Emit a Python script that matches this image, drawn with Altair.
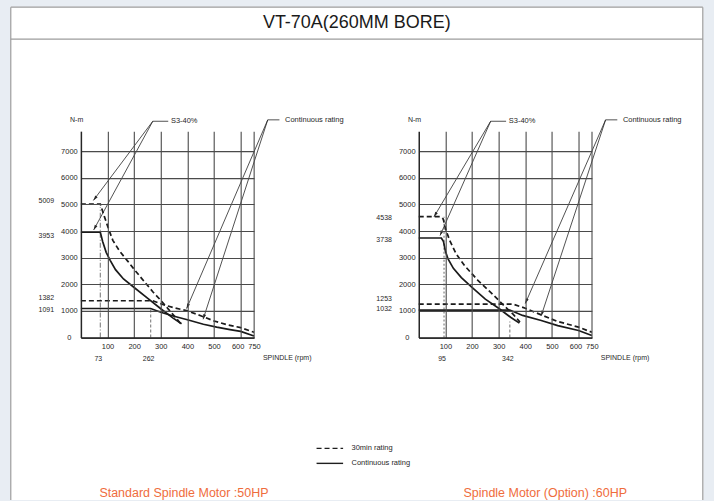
import math
import altair as alt
import pandas as pd

# ---------------- data ----------------
TITLE = "VT-70A(260MM BORE)"
X_TICKS = [100, 200, 300, 400, 500, 600, 750]
Y_TICKS = [0, 1000, 2000, 3000, 4000, 5000, 6000, 7000]

# Left chart: Standard Spindle Motor :50HP
L_S30_LOW_RPM = [0, 73, 88, 105, 120, 145, 175, 205, 240, 270, 300, 330, 355, 375]
L_S30_LOW_NM = [5009, 5009, 4550, 4050, 3650, 3250, 2880, 2500, 2080, 1720, 1400, 1050, 760, 520]
L_CONT_LOW_RPM = [0, 73, 82, 95, 110, 130, 160, 200, 250, 300, 345, 378]
L_CONT_LOW_NM = [3953, 3953, 3600, 3200, 2900, 2550, 2200, 1880, 1480, 1080, 740, 520]
L_S30_HIGH_RPM = [0, 270, 310, 350, 400, 450, 500, 550, 600, 750]
L_S30_HIGH_NM = [1382, 1382, 1230, 1120, 1000, 820, 620, 480, 370, 200]
L_CONT_HIGH_RPM = [0, 262, 300, 350, 400, 460, 510, 560, 600, 750]
L_CONT_HIGH_NM = [1091, 1091, 950, 800, 670, 500, 390, 300, 230, 60]
L_Y_MARKS = [5009, 3953, 1382, 1091]
L_X_MARKS = [73, 262]
L_CAPTION = "Standard Spindle Motor :50HP"

# Right chart: Spindle Motor (Option) :60HP
R_S30_LOW_RPM = [0, 80, 92, 100, 116, 140, 172, 222, 272, 322, 355, 380]
R_S30_LOW_NM = [4538, 4538, 4450, 4100, 3650, 3150, 2700, 2150, 1680, 1180, 870, 580]
R_CONT_LOW_RPM = [0, 85, 93, 100, 110, 130, 160, 200, 250, 300, 345, 378]
R_CONT_LOW_NM = [3738, 3738, 3600, 3250, 2950, 2600, 2250, 1880, 1440, 1100, 760, 540]
R_S30_HIGH_RPM = [0, 355, 400, 460, 520, 600, 750]
R_S30_HIGH_NM = [1253, 1253, 1100, 850, 610, 390, 200]
R_CONT_HIGH_RPM = [0, 342, 390, 460, 522, 600, 750]
R_CONT_HIGH_NM = [1032, 1032, 830, 640, 450, 265, 75]
R_Y_MARKS = [4538, 3738, 1253, 1032]
R_X_MARKS = [95, 342]
R_CAPTION = "Spindle Motor (Option) :60HP"

# annotation anchors (data units: rpm, N-m)
L_S3_TIPS = [(47, 5150), (48, 4040)]
R_S3_TIPS = [(57, 4530), (80, 3830)]
L_CONT_TIPS = [(397, 1087), (459, 686)]
R_CONT_TIPS = [(400, 1275), (460, 818)]

# ---------------- styles ----------------
FONT = "Liberation Sans Narrow, Arial Narrow, Liberation Sans, Arial, sans-serif"
INK = "#262626"
GRID = "#4a4a4a"
ORANGE = "#ef6c3c"
W, H = 173.333, 206.667
KX1, KX2, KY = 160 / 600, 13.333 / 150, H / 7750

XS = alt.Scale(domain=[0, 600, 750], range=[0, 160, W], nice=False, zero=False)
YS = alt.Scale(domain=[0, 7750], nice=False, zero=False)
AX = alt.Axis(values=X_TICKS, grid=True, ticks=False, tickSize=0, domainColor=INK,
              domainWidth=1.5, gridColor=GRID, gridWidth=1.1, labelFont=FONT,
              labelFontSize=7.5, labelColor=INK, labelPadding=5, labelFlush=False,
              labelOverlap=False, title=None, zindex=1,
              labelOffset=alt.ConditionalAxisNumber(
                  condition={"test": "datum.value == 600", "value": -3},
                  value=0))
AY = alt.Axis(values=Y_TICKS, grid=True, ticks=False, tickSize=0, domainColor=INK,
              domainWidth=1.5, gridColor=GRID, gridWidth=1.1, labelFont=FONT,
              labelFontSize=7.5, labelColor=INK, labelPadding=12, labelAlign="center",
              labelBaseline="middle", labelOverlap=False, format="d", title=None, zindex=1)


def X(f="x"):
    return alt.X(f"{f}:Q", scale=XS, axis=AX)


def Y(f="y"):
    return alt.Y(f"{f}:Q", scale=YS, axis=AY)


def xpx(r):
    return r * KX1 if r <= 600 else 600 * KX1 + (r - 600) * KX2


def angle(x0, y0, x1, y1):
    dx = xpx(x1) - xpx(x0)
    dy = -(y1 - y0) * KY
    return (math.degrees(math.atan2(dx, -dy)) + 360) % 360


ARROW = "M0,0L-0.5,1.7L0.5,1.7Z"


def seg_layer(rows, width=0.8, color=INK, dash=None):
    df = pd.DataFrame(rows, columns=["x", "y", "x2", "y2"])
    kw = dict(color=color, strokeWidth=width)
    if dash:
        kw["strokeDash"] = dash
    return alt.Chart(df).mark_rule(**kw).encode(x=X(), y=Y(), x2=alt.X2("x2"), y2=alt.Y2("y2"))


def text_layer(xs, ys, texts, size=8, align="center", color=INK, dx=0, dy=0, baseline="middle"):
    df = pd.DataFrame({"x": xs, "y": ys, "t": texts})
    return alt.Chart(df).mark_text(font=FONT, fontSize=size, align=align, baseline=baseline,
                                   color=color, dx=dx, dy=dy).encode(x=X(), y=Y(), text="t:N")


def leader(start, hx2, label_x, label, tips):
    sx, sy = start
    layers = [seg_layer([(sx, sy, tx, ty) for tx, ty in tips]),
              seg_layer([(sx, sy, hx2, sy)]),
              text_layer([label_x], [sy], [label], size=7.5, align="left")]
    df = pd.DataFrame({"x": [t[0] for t in tips], "y": [t[1] for t in tips],
                       "a": [angle(sx, sy, tx, ty) for tx, ty in tips]})
    layers.append(alt.Chart(df).mark_point(shape=ARROW, filled=True, size=36, color=INK,
                                           opacity=1).encode(
        x=X(), y=Y(), angle=alt.Angle("a:Q", scale=None)))
    return layers


def panel(curves, guides, ymarks, ydy, xmarks, s3_tips, cont_tips, caption, cap_x, extra):
    layers = list(extra)
    # guide lines
    for gx, top, dash, color, wdt in guides:
        layers.append(seg_layer([(gx, 0, gx, top)], width=wdt, color=color, dash=dash))
    # curves
    for rpm, nm, dashed in curves:
        df = pd.DataFrame({"x": rpm, "y": nm})
        kw = dict(color="#1a1a1a", strokeWidth=1.7)
        if dashed:
            kw["strokeDash"] = [5, 3]
        layers.append(alt.Chart(df).mark_line(**kw).encode(x=X(), y=Y()))
    # extra y labels
    for v, d in zip(ymarks, ydy):
        layers.append(text_layer([-130], [v], [str(v)], size=7, dy=d))
    # extra x labels
    layers.append(text_layer(xmarks, [-810] * len(xmarks), [str(v) for v in xmarks], size=7, dx=-2))
    # axis captions
    layers.append(text_layer([-16], [8175], ["N-m"], size=7))
    layers.append(text_layer([851], [-770], ["SPINDLE (rpm)"], size=7, align="left"))
    # annotations
    layers += leader((270, 8122), 328, 338, "S3-40%", s3_tips)
    layers += leader((905, 8175), 1037, 1100, "Continuous rating", cont_tips)
    # caption
    layers.append(text_layer([cap_x], [-5839], [caption], size=12.5, color=ORANGE))
    return alt.layer(*layers).properties(width=W, height=H)


# decorations living in the left panel's coordinates
card = alt.Chart(pd.DataFrame({"x": [-265], "x2": [5812], "y": [12424], "y2": [-6101]})).mark_rect(
    color="white").encode(x=X(), x2=alt.X2("x2"), y=Y(), y2=alt.Y2("y2"))
borders = seg_layer([(-263.3, 12405, -263.3, -6101), (5806.5, 12405, 5806.5, -6101),
                     (-263.3, 12405, 5806.5, 12405)], width=1.2, color="#9c9c9c")
separator = seg_layer([(-263.3, 11205, 5806.5, 11205)], width=1.2, color="#9c9c9c")
title = text_layer([1908], [11824], [TITLE], size=18, color="#1a1a1a")
legend_lines = [seg_layer([(1455, -4162, 1754, -4162)], width=1.4, color="#1e1e1e", dash=[5, 3]),
                seg_layer([(1455, -4725, 1754, -4725)], width=1.4, color="#1e1e1e")]
legend_text = text_layer([1849, 1849], [-4162, -4725], ["30min rating", "Continuous rating"],
                         size=7.5, align="left")

left = panel(
    [(L_S30_LOW_RPM, L_S30_LOW_NM, True), (L_CONT_LOW_RPM, L_CONT_LOW_NM, False),
     (L_S30_HIGH_RPM, L_S30_HIGH_NM, True), (L_CONT_HIGH_RPM, L_CONT_HIGH_NM, False)],
    [(73, 4900, [5, 2, 1, 2], "#8a8a8a", 1.2), (262, 1060, [3, 2], "#8a8a8a", 1.2)],
    L_Y_MARKS, [-3, 4, -2.5, 1.5], L_X_MARKS, L_S3_TIPS, L_CONT_TIPS, L_CAPTION, 387,
    [card, borders, separator, title] + legend_lines + [legend_text])

right = panel(
    [(R_S30_LOW_RPM, R_S30_LOW_NM, True), (R_CONT_LOW_RPM, R_CONT_LOW_NM, False),
     (R_S30_HIGH_RPM, R_S30_HIGH_NM, True), (R_CONT_HIGH_RPM, R_CONT_HIGH_NM, False)],
    [(95, 4538, [2, 2], "#a0a0a0", 1.6), (342, 600, [3, 2], "#8a8a8a", 1.2)],
    R_Y_MARKS, [1, 2, -5, -1.5], R_X_MARKS, R_S3_TIPS, R_CONT_TIPS, R_CAPTION, 475, [])

chart = alt.hconcat(left, right, spacing=164.333, bounds="flush",
                    padding={"left": 10, "top": 6, "right": 10, "bottom": 0},
                    background="#e8edf3").configure_view(stroke=None)

chart.save("out.html", embed_options={"renderer": "svg", "actions": False})
